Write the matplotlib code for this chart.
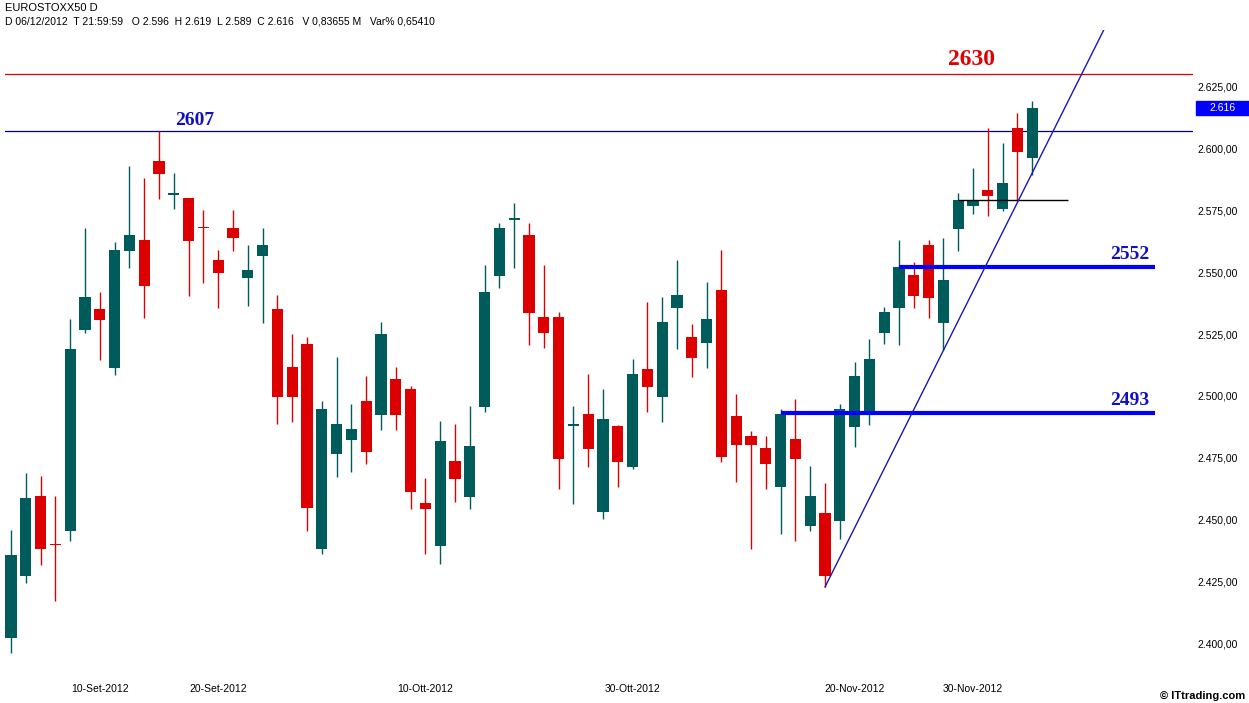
import numpy as np
import pandas as pd
import matplotlib
matplotlib.use("Agg")
import matplotlib.pyplot as plt
import matplotlib.transforms as mtransforms

# daily OHLC, EUROSTOXX50, 31 Aug 2012 -> 6 Dec 2012
dates = pd.bdate_range("2012-08-31", "2012-12-06")

opens = [2402.4, 2427.4, 2459.7, 2440.1, 2445.6, 2526.6, 2535.1, 2511.3, 2558.5, 2562.9,
         2594.8, 2581.0, 2579.8, 2567.8, 2554.8, 2567.7, 2547.6, 2556.5, 2535.1, 2511.7,
         2521.0, 2438.3, 2476.6, 2482.3, 2498.0, 2492.3, 2506.9, 2502.8, 2456.9, 2439.5,
         2473.8, 2459.3, 2495.6, 2548.4, 2571.0, 2564.9, 2531.9, 2531.9, 2488.0, 2492.7,
         2453.2, 2487.9, 2471.4, 2510.9, 2499.6, 2535.5, 2523.8, 2521.4, 2542.7, 2491.9,
         2483.9, 2479.0, 2463.3, 2482.7, 2447.6, 2452.8, 2449.6, 2487.5, 2493.5, 2525.4,
         2535.5, 2548.8, 2560.9, 2529.4, 2567.3, 2576.6, 2583.1, 2575.4, 2608.1, 2596.0]
highs = [2446.0, 2469.0, 2467.7, 2459.7, 2531.0, 2567.7, 2541.9, 2562.1, 2592.7, 2587.9,
         2607.0, 2589.9, 2580.0, 2575.0, 2558.9, 2575.0, 2560.9, 2567.7, 2540.7, 2525.0,
         2523.8, 2498.0, 2515.7, 2496.8, 2508.1, 2529.8, 2511.7, 2504.0, 2466.9, 2489.9,
         2488.7, 2496.0, 2552.8, 2569.8, 2577.8, 2569.8, 2552.8, 2533.9, 2496.0, 2508.9,
         2502.8, 2488.3, 2514.9, 2537.9, 2539.9, 2554.8, 2529.0, 2546.0, 2558.9, 2500.8,
         2485.9, 2483.9, 2494.8, 2498.8, 2471.8, 2464.9, 2496.8, 2513.7, 2523.0, 2535.9,
         2562.9, 2554.0, 2562.9, 2563.7, 2581.9, 2591.9, 2608.1, 2602.0, 2614.1, 2619.0]
lows = [2396.4, 2424.6, 2431.9, 2417.3, 2441.5, 2525.4, 2514.5, 2508.5, 2551.6, 2531.5,
        2579.4, 2575.4, 2540.3, 2545.6, 2535.5, 2558.5, 2536.3, 2529.4, 2488.7, 2489.5,
        2445.6, 2436.3, 2467.3, 2469.4, 2472.6, 2486.3, 2486.3, 2454.4, 2436.3, 2432.3,
        2457.3, 2454.4, 2493.5, 2543.5, 2551.6, 2520.6, 2519.4, 2462.5, 2456.5, 2471.4,
        2450.4, 2463.3, 2470.6, 2493.5, 2489.5, 2519.0, 2507.7, 2511.3, 2473.4, 2465.3,
        2438.3, 2462.5, 2444.4, 2441.5, 2445.6, 2423.0, 2442.3, 2479.4, 2488.3, 2521.0,
        2520.6, 2535.5, 2531.5, 2518.5, 2558.5, 2573.4, 2572.6, 2574.6, 2578.6, 2589.0]
closes = [2435.9, 2458.9, 2438.3, 2439.9, 2519.0, 2539.9, 2530.6, 2558.9, 2564.9, 2544.4,
          2589.5, 2582.0, 2562.5, 2567.6, 2549.6, 2563.7, 2550.8, 2560.9, 2499.6, 2499.6,
          2454.8, 2494.8, 2488.7, 2486.7, 2477.4, 2525.0, 2492.3, 2461.3, 2454.4, 2481.9,
          2466.5, 2479.8, 2541.9, 2567.7, 2571.8, 2533.5, 2525.4, 2474.6, 2488.6, 2478.6,
          2490.7, 2473.4, 2508.9, 2503.6, 2529.8, 2540.7, 2515.3, 2531.0, 2475.4, 2480.2,
          2480.2, 2472.6, 2492.7, 2474.6, 2459.7, 2427.4, 2494.8, 2508.1, 2514.9, 2533.9,
          2552.0, 2540.3, 2539.5, 2546.8, 2579.0, 2579.0, 2580.6, 2585.9, 2598.4, 2616.0]

tick_days = ["2012-09-10", "2012-09-20", "2012-10-10", "2012-10-30", "2012-11-20", "2012-11-30"]
tick_labels = ["10-Set-2012", "20-Set-2012", "10-Ott-2012", "30-Ott-2012", "20-Nov-2012", "30-Nov-2012"]
y_ticks = [2400, 2425, 2450, 2475, 2500, 2525, 2550, 2575, 2600, 2625]

# drawn levels: (value, first candle, last candle position)
resist_2630 = 2630
resist_2607 = 2607
support_2552 = (2552, 60, 77.3)
support_2493 = (2493, 52, 77.3)
level_2579 = (2579, 64, 71.4)
trend_pts = ([55, 69], [2423, 2590])

UP = "#005b5b"
DOWN = "#dd0000"
FONT = "Liberation Sans"
SERIF = "Liberation Serif"

fig = plt.figure(figsize=(12.49, 7.03), dpi=100)
ax = fig.add_axes([5 / 1249, 1 - 670 / 703, 1188 / 1249, 640 / 703])

x = np.arange(len(dates))
o = np.array(opens); c = np.array(closes)
h = np.array(highs); l = np.array(lows)
up = c >= o
colors = np.where(up, UP, DOWN)

ax.vlines(x, l, h, colors=colors, linewidth=1.0, zorder=2)
body_lo = np.minimum(o, c)
body_h = np.maximum(np.abs(c - o), 0.5)
ax.bar(x, body_h, bottom=body_lo, width=0.76, color=colors, linewidth=0, zorder=3)

ax.axhline(resist_2630, color="#e00000", linewidth=0.9, zorder=1)
ax.axhline(resist_2607, color="#000080", linewidth=0.9, zorder=1)
for val, x0, x1 in (support_2552, support_2493):
    ax.hlines(val, x0, x1, color="#0000ff", linewidth=3, zorder=4)
ax.hlines(level_2579[0], level_2579[1], level_2579[2], color="black", linewidth=1.0, zorder=4)

tx, ty = trend_pts
slope = (ty[1] - ty[0]) / (tx[1] - tx[0])
tx_end = tx[0] + 22
ax.plot([tx[0], tx_end], [ty[0], ty[0] + slope * (tx_end - tx[0])], color="#1a1aa8", linewidth=1.0, zorder=5)

ax.text(64.9, 2631.5, "2630", color="#e00000", fontsize=17, fontweight="bold", family=SERIF,
        ha="center", va="bottom")
ax.text(12.4, 2607.6, "2607", color="#1010c0", fontsize=14, fontweight="bold", family=SERIF,
        ha="center", va="bottom")
for val, x0, x1 in (support_2552, support_2493):
    ax.text(76.9, val + 1.8, str(val), color="#1010c0", fontsize=14, fontweight="bold",
            family=SERIF, ha="right", va="bottom")

ax.set_xlim(-0.405, 79.86)
ax.set_ylim(2389.5, 2647.6)

date_index = {d.strftime("%Y-%m-%d"): i for i, d in enumerate(dates)}
ax.set_xticks([date_index[d] for d in tick_days])
ax.set_xticklabels(tick_labels, fontsize=7.5, family=FONT)
ax.set_yticks(y_ticks)
ax.set_yticklabels([f"{v:,.2f}".replace(",", "X").replace(".", ",").replace("X", ".") for v in y_ticks],
                   fontsize=7.5, family=FONT)
ax.yaxis.tick_right()
ax.tick_params(axis="x", length=0, pad=10)
ax.tick_params(axis="y", length=0, pad=3)
for s in ax.spines.values():
    s.set_visible(False)

# last price tag on the right axis
trans = mtransforms.blended_transform_factory(fig.transFigure, ax.transData)
tag_h = 14 / 2.48  # box height in price units
ax.add_patch(plt.Rectangle((1196 / 1249, closes[-1] - tag_h / 2), 53 / 1249, tag_h,
                           transform=trans, color="#0000ff", clip_on=False, zorder=6))
ax.text(1222 / 1249, closes[-1], f"{closes[-1]:,.0f}".replace(",", "."), transform=trans,
        color="white", fontsize=7.5, family=FONT, ha="center", va="center", zorder=7)

fig.text(5 / 1249, 1 - 8 / 703, "EUROSTOXX50 D", fontsize=8, family=FONT, va="center")
fig.text(5 / 1249, 1 - 22 / 703,
         "D 06/12/2012  T 21:59:59   O 2.596  H 2.619  L 2.589  C 2.616   V 0,83655 M   Var% 0,65410",
         fontsize=7.5, family=FONT, va="center")
fig.text(1245 / 1249, 1 - 696 / 703, "\u00a9 ITtrading.com", fontsize=8, family=FONT,
         fontweight="bold", ha="right", va="center")

fig.savefig("out.png", dpi=100)
